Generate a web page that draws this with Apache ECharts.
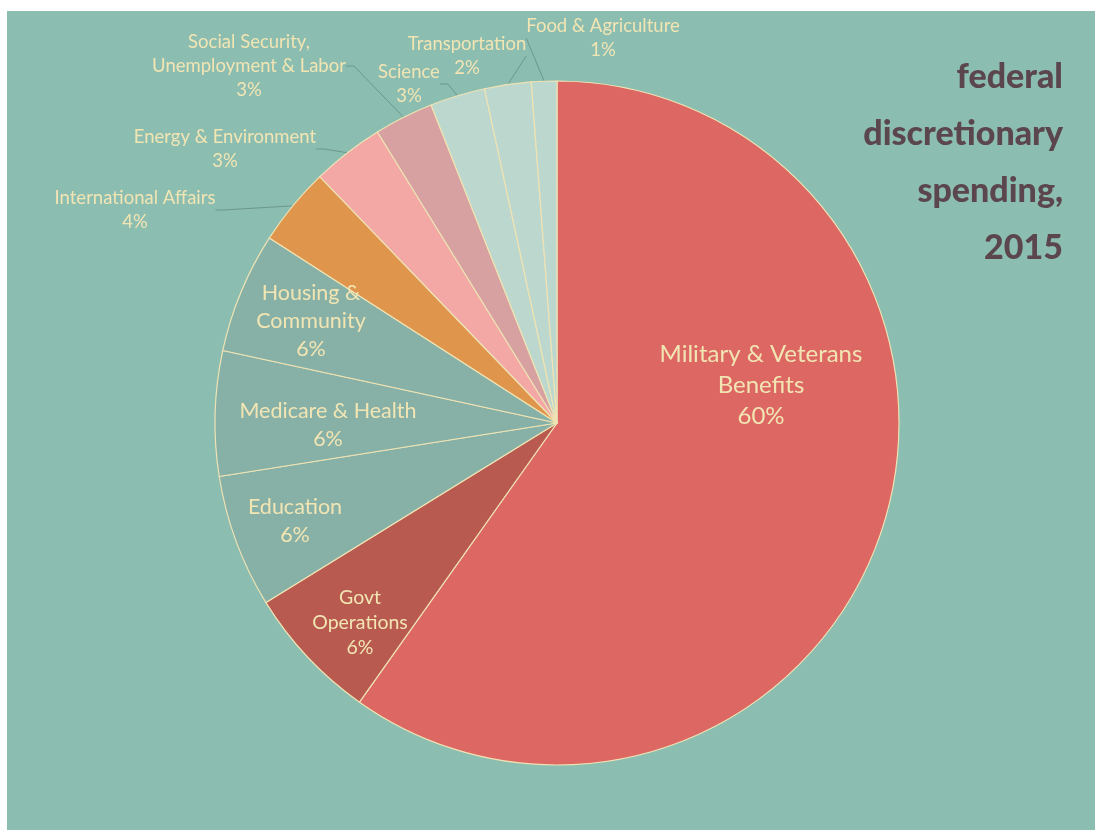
<!DOCTYPE html>
<html>
<head>
<meta charset="utf-8">
<title>federal discretionary spending, 2015</title>
<script src="https://cdn.jsdelivr.net/npm/echarts@6/dist/echarts.min.js"></script>
<style>
  html, body { margin: 0; padding: 0; background: #ffffff; }
  #chart { width: 1095px; height: 830px; }
</style>
</head>
<body>
<div id="chart"></div>
<script>
// Spending categories, clockwise from 12 o'clock
const categories = [
  'Military & Veterans\nBenefits',
  'Govt\nOperations',
  'Education',
  'Medicare & Health',
  'Housing &\nCommunity',
  'International Affairs',
  'Energy & Environment',
  'Social Security,\nUnemployment & Labor',
  'Science',
  'Transportation',
  'Food & Agriculture'
];

// Share of discretionary spending (percent)
const shares = [59.8, 6.4, 6.3, 5.9, 5.7, 3.7, 3.4, 2.8, 2.6, 2.2, 1.2];

const sliceColors = [
  '#dd6762', '#b95a50', '#87b1a6', '#87b1a6', '#87b1a6',
  '#df964c', '#f3a8a6', '#d7a1a1', '#bcd7ce', '#bcd7ce', '#bcd7ce'
];

const titleLines = ['federal', 'discretionary', 'spending,', '2015'];

// Which slices carry their label outside with a leader line
const outsideLabel = [false, false, false, false, false, true, true, true, true, true, true];

// Label placement (centre of each text block) and type size
const labelPlacement = [
  { x: 761, y: 385, size: 24, lh: 31 },
  { x: 360, y: 623, size: 19.5, lh: 25 },
  { x: 295, y: 521, size: 21.5, lh: 28 },
  { x: 328, y: 425, size: 21.5, lh: 28 },
  { x: 311, y: 321, size: 21.5, lh: 28 },
  { x: 135, y: 210, size: 18.5, lh: 24 },
  { x: 225, y: 149, size: 18.5, lh: 24 },
  { x: 249, y: 66,  size: 18.5, lh: 24 },
  { x: 409, y: 84,  size: 18.5, lh: 24 },
  { x: 467, y: 56,  size: 18.5, lh: 24 },
  { x: 603, y: 38,  size: 18.5, lh: 24 }
];

const LABEL_COLOR = '#f2e5b4';
const FONT = 'Lato, "Open Sans", sans-serif';

const pieData = categories.map((name, i) => ({
  name: name,
  value: shares[i],
  itemStyle: { color: sliceColors[i] },
  label: {
    position: outsideLabel[i] ? 'outside' : 'inside',
    fontSize: labelPlacement[i].size,
    lineHeight: labelPlacement[i].lh
  },
  labelLine: { show: outsideLabel[i] }
}));

const chart = echarts.init(document.getElementById('chart'), null, { renderer: 'canvas' });

chart.setOption({
  backgroundColor: '#ffffff',
  animation: false,
  graphic: [
    {
      type: 'rect',
      z: -10,
      silent: true,
      shape: { x: 7, y: 11, width: 1088, height: 819 },
      style: { fill: '#8bbdb0' }
    },
    {
      type: 'text',
      z: 10,
      x: 1063,
      y: 49,
      style: {
        text: titleLines.join('\n'),
        align: 'right',
        verticalAlign: 'top',
        fill: '#5b464d',
        font: '900 34px ' + FONT,
        lineHeight: 57
      }
    }
  ],
  series: [
    {
      type: 'pie',
      center: [557, 423],
      radius: [0, 342],
      startAngle: 90,
      clockwise: true,
      avoidLabelOverlap: false,
      itemStyle: {
        borderColor: '#efe3b4',
        borderWidth: 1.2
      },
      label: {
        show: true,
        color: LABEL_COLOR,
        fontFamily: FONT,
        align: 'center',
        formatter: p => p.name + '\n' + Math.round(p.percent) + '%'
      },
      labelLine: {
        show: true,
        length: 8,
        length2: 8,
        smooth: false,
        lineStyle: { color: '#6d978d', width: 1 }
      },
      labelLayout: params => {
        const pos = labelPlacement[params.dataIndex];
        return { x: pos.x, y: pos.y, align: 'center', verticalAlign: 'middle' };
      },
      emphasis: { disabled: true },
      data: pieData
    }
  ]
});
</script>
</body>
</html>
